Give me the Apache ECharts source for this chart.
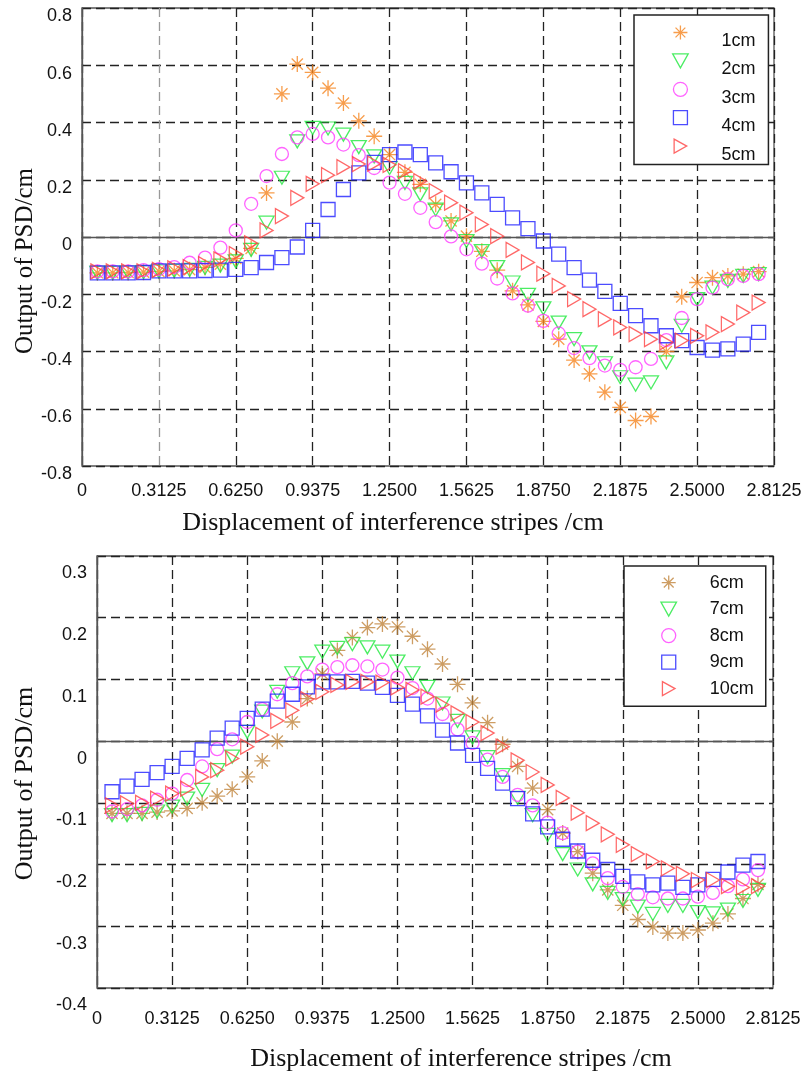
<!DOCTYPE html>
<html><head><meta charset="utf-8">
<script src="https://cdn.jsdelivr.net/npm/echarts@6/dist/echarts.min.js"></script>
<style>html,body{margin:0;padding:0;background:#fff}#c{width:804px;height:1072px}</style>
</head><body><div id="c"></div>
<script>
// Displacement of interference stripes (cm) at which the samples were taken
const displacement = [0.0625,0.125,0.1875,0.25,0.3125,0.375,0.4375,0.5,0.5625,0.625,0.6875,0.75,0.8125,0.875,0.9375,1.0,1.0625,1.125,1.1875,1.25,1.3125,1.375,1.4375,1.5,1.5625,1.625,1.6875,1.75,1.8125,1.875,1.9375,2.0,2.0625,2.125,2.1875,2.25,2.3125,2.375,2.4375,2.5,2.5625,2.625,2.6875,2.75];

// Top panel
const s1cm = [-0.125,-0.125,-0.124,-0.123,-0.12,-0.118,-0.114,-0.106,-0.095,-0.075,-0.04,0.154,0.50,0.604,0.575,0.52,0.468,0.406,0.352,0.288,0.226,0.184,0.114,0.056,0.003,-0.05,-0.116,-0.188,-0.237,-0.295,-0.357,-0.43,-0.478,-0.542,-0.595,-0.641,-0.627,-0.40,-0.209,-0.159,-0.142,-0.136,-0.13,-0.121];
const s2cm = [-0.125,-0.125,-0.124,-0.123,-0.12,-0.118,-0.115,-0.108,-0.1,-0.085,-0.045,0.05,0.207,0.334,0.381,0.379,0.358,0.314,0.282,0.241,0.189,0.149,0.096,0.044,-0.014,-0.049,-0.105,-0.159,-0.202,-0.249,-0.299,-0.357,-0.403,-0.441,-0.49,-0.516,-0.508,-0.438,-0.31,-0.217,-0.177,-0.153,-0.136,-0.13];
const s3cm = [-0.12,-0.12,-0.12,-0.116,-0.112,-0.105,-0.09,-0.072,-0.037,0.023,0.116,0.213,0.29,0.348,0.36,0.348,0.323,0.286,0.241,0.19,0.151,0.102,0.052,0.002,-0.043,-0.093,-0.145,-0.197,-0.24,-0.293,-0.337,-0.388,-0.423,-0.449,-0.464,-0.455,-0.426,-0.36,-0.283,-0.217,-0.177,-0.147,-0.136,-0.13];
const s4cm = [-0.125,-0.125,-0.125,-0.124,-0.118,-0.118,-0.118,-0.117,-0.116,-0.113,-0.107,-0.089,-0.072,-0.035,0.023,0.096,0.166,0.224,0.261,0.288,0.297,0.288,0.259,0.228,0.189,0.154,0.114,0.067,0.029,-0.014,-0.06,-0.107,-0.151,-0.19,-0.232,-0.275,-0.31,-0.345,-0.362,-0.386,-0.395,-0.391,-0.374,-0.333];
const s5cm = [-0.12,-0.12,-0.12,-0.12,-0.115,-0.11,-0.105,-0.095,-0.078,-0.06,-0.022,0.023,0.073,0.137,0.186,0.216,0.244,0.255,0.256,0.252,0.23,0.195,0.16,0.12,0.085,0.044,0.003,-0.045,-0.089,-0.128,-0.171,-0.217,-0.252,-0.287,-0.316,-0.339,-0.357,-0.368,-0.362,-0.345,-0.333,-0.304,-0.264,-0.229];

// Bottom panel
const s6cm = [-0.117,-0.117,-0.117,-0.115,-0.113,-0.109,-0.1,-0.089,-0.078,-0.058,-0.032,0.0,0.031,0.069,0.109,0.147,0.168,0.184,0.19,0.185,0.17,0.149,0.125,0.092,0.062,0.03,-0.005,-0.041,-0.076,-0.111,-0.149,-0.179,-0.214,-0.241,-0.266,-0.289,-0.301,-0.311,-0.311,-0.306,-0.295,-0.28,-0.255,-0.232];
const s7cm = [-0.12,-0.12,-0.118,-0.114,-0.106,-0.093,-0.079,-0.047,-0.025,0.015,0.048,0.08,0.11,0.126,0.145,0.151,0.157,0.152,0.145,0.129,0.11,0.088,0.061,0.033,0.006,-0.026,-0.055,-0.092,-0.12,-0.152,-0.183,-0.208,-0.232,-0.246,-0.256,-0.268,-0.28,-0.267,-0.267,-0.277,-0.279,-0.273,-0.259,-0.241];
const s8cm = [-0.114,-0.11,-0.104,-0.095,-0.085,-0.063,-0.041,-0.013,0.003,0.031,0.052,0.076,0.094,0.105,0.116,0.12,0.123,0.121,0.116,0.103,0.086,0.069,0.044,0.019,-0.003,-0.03,-0.058,-0.087,-0.104,-0.132,-0.149,-0.179,-0.198,-0.222,-0.236,-0.248,-0.253,-0.255,-0.255,-0.252,-0.246,-0.235,-0.224,-0.209];
const s9cm = [-0.082,-0.073,-0.062,-0.051,-0.041,-0.028,-0.014,0.005,0.021,0.037,0.052,0.065,0.076,0.088,0.096,0.096,0.097,0.094,0.087,0.074,0.06,0.041,0.018,-0.003,-0.023,-0.044,-0.068,-0.093,-0.118,-0.139,-0.159,-0.178,-0.193,-0.208,-0.219,-0.228,-0.233,-0.23,-0.237,-0.233,-0.224,-0.212,-0.201,-0.195];
const s10cm = [-0.104,-0.101,-0.1,-0.093,-0.085,-0.077,-0.058,-0.047,-0.028,-0.009,0.01,0.033,0.05,0.068,0.08,0.091,0.096,0.096,0.095,0.087,0.083,0.072,0.059,0.045,0.031,0.013,-0.009,-0.031,-0.05,-0.071,-0.092,-0.116,-0.133,-0.151,-0.168,-0.183,-0.195,-0.206,-0.215,-0.225,-0.225,-0.235,-0.237,-0.235];

const topNames = ['1cm','2cm','3cm','4cm','5cm'];
const bottomNames = ['6cm','7cm','8cm','9cm','10cm'];

const xTickValues = [0,0.3125,0.625,0.9375,1.25,1.5625,1.875,2.1875,2.5,2.8125];
const xTickLabels = ['0','0.3125','0.6250','0.9375','1.2500','1.5625','1.8750','2.1875','2.5000','2.8125'];
const yTopTickValues = [-0.8,-0.6,-0.4,-0.2,0,0.2,0.4,0.6,0.8];
const yTopTickLabels = ['-0.8','-0.6','-0.4','-0.2','0','0.2','0.4','0.6','0.8'];
const yBotTickValues = [-0.4,-0.3,-0.2,-0.1,0,0.1,0.2,0.3];
const yBotTickLabels = ['-0.4','-0.3','-0.2','-0.1','0','0.1','0.2','0.3'];

const xTitle = 'Displacement of interference stripes /cm';
const yTitle = 'Output of PSD/cm';

function lookup(vals, labels, prefix) {
  return function (v) {
    for (let i = 0; i < vals.length; i++) if (Math.abs(vals[i] - v) < 1e-6) return prefix + labels[i];
    return '';
  };
}

const STAR = 'path://M10,0L10,20M0,10L20,10M3,3L17,17M3,17L17,3';
const TRI_DOWN = 'path://M0,0L20,0L10,18Z';
const TRI_RIGHT = 'path://M0,0L18,10L0,20Z';
const SQUARE = 'path://M0,0L20,0L20,20L0,20Z';

function mk(name, vals, symbol, size, color, gi) {
  return {
    type: 'scatter', name: name, xAxisIndex: gi, yAxisIndex: gi,
    data: displacement.map((x, i) => [x, vals[i]]),
    symbol: symbol, symbolSize: size,
    itemStyle: { color: 'rgba(0,0,0,0)', borderColor: color, borderWidth: 1.3 },
    emphasis: { disabled: true }
  };
}

const gridLine = { show: true, lineStyle: { type: [9, 5], color: '#222', width: 1.3 } };
const tickFont = { fontFamily: 'Liberation Sans', fontSize: 18, color: '#111' };
const titleFont = { fontFamily: 'Liberation Serif', fontSize: 26, color: '#111' };

function xAxis(gi, margin, namePad, nameGap) {
  return {
    type: 'value', gridIndex: gi, min: 0, max: 2.8125, interval: 0.3125,
    axisLine: { show: true, lineStyle: { color: '#555', width: 1.3 } },
    axisTick: { show: false },
    axisLabel: Object.assign({ margin: margin, showMinLabel: true, showMaxLabel: true, formatter: lookup(xTickValues, xTickLabels, '') }, tickFont),
    splitLine: gi === 0 ? { show: true, lineStyle: { type: [9, 5], width: 1.3, color: ['#222', '#999', '#222', '#222', '#222', '#222', '#222', '#222', '#222', '#222'] } } : gridLine,
    name: xTitle, nameLocation: 'middle', nameGap: nameGap,
    nameTextStyle: Object.assign({ padding: namePad }, titleFont)
  };
}
function yAxis(gi, min, max, interval, vals, labels, prefix, lineH, nameGap, namePad, nameSize) {
  return {
    type: 'value', gridIndex: gi, min: min, max: max, interval: interval,
    axisLine: { show: true, lineStyle: { color: '#555', width: 1.3 } },
    axisTick: { show: false },
    axisLabel: Object.assign({ margin: 10, lineHeight: lineH, hideOverlap: false, showMinLabel: true, showMaxLabel: true, formatter: lookup(vals, labels, prefix) }, tickFont),
    splitLine: gridLine,
    name: yTitle, nameLocation: 'middle', nameGap: nameGap, nameRotate: 90, nameMoveOverlap: false,
    nameTextStyle: Object.assign({ padding: namePad }, titleFont, { fontSize: nameSize })
  };
}

const chart = echarts.init(document.getElementById('c'), null, { renderer: 'canvas' });
chart.setOption({
  animation: false,
  backgroundColor: '#fff',
  grid: [
    { left: 82, top: 8, width: 692, height: 458, show: true, borderColor: '#555', borderWidth: 1.3, backgroundColor: '#fff', outerBoundsMode: 'none' },
    { left: 97, top: 556, width: 676, height: 432, show: true, borderColor: '#555', borderWidth: 1.3, backgroundColor: '#fff', outerBoundsMode: 'none' }
  ],
  xAxis: [xAxis(0, 16, [0, 70, 0, 0], 44), xAxis(1, 22, [0, 0, 0, 52], 58)],
  yAxis: [
    yAxis(0, -0.8, 0.8, 0.2, yTopTickValues, yTopTickLabels, '\n', 17, 44, [0, 48, 0, 0], 25),
    yAxis(1, -0.4, 0.3, 0.1, yBotTickValues, yBotTickLabels, '\n\n', 17.5, 59, [0, 23, 0, 0], 26)
  ],
  legend: [
    { data: topNames, orient: 'vertical', left: 634, top: 15, padding: [0, 13, 1, 38], itemWidth: 72, itemHeight: 14, itemGap: -6.6,
      borderColor: '#222', borderWidth: 1.5, backgroundColor: '#fff', selectedMode: false,
      itemStyle: { borderWidth: 1.3 },
      formatter: function (n) { return '\n' + n; },
      textStyle: { fontFamily: 'Liberation Sans', fontSize: 18, color: '#111', lineHeight: 17 } },
    { data: bottomNames, orient: 'vertical', left: 624, top: 566, padding: [7.6, 12, 8.7, 36.3], itemWidth: 72, itemHeight: 14, itemGap: 8.5,
      borderColor: '#222', borderWidth: 1.5, backgroundColor: '#fff', selectedMode: false,
      itemStyle: { borderWidth: 1.3 },
      textStyle: { fontFamily: 'Liberation Sans', fontSize: 18, color: '#111' } }
  ],
  series: [
    mk('1cm', s1cm, STAR, [16, 16], '#f5841f', 0),
    mk('2cm', s2cm, TRI_DOWN, [15, 13], '#1ee83c', 0),
    mk('3cm', s3cm, 'circle', 13, '#ff3cff', 0),
    mk('4cm', s4cm, SQUARE, 14, '#1f1fff', 0),
    mk('5cm', s5cm, TRI_RIGHT, [13, 15], '#ff4242', 0),
    mk('6cm', s6cm, STAR, [16, 16], '#c0843c', 1),
    mk('7cm', s7cm, TRI_DOWN, [15, 13], '#1ee83c', 1),
    mk('8cm', s8cm, 'circle', 13, '#ff3cff', 1),
    mk('9cm', s9cm, SQUARE, 14, '#1f1fff', 1),
    mk('10cm', s10cm, TRI_RIGHT, [13, 15], '#ff4242', 1)
  ]
});
</script>
</body></html>
